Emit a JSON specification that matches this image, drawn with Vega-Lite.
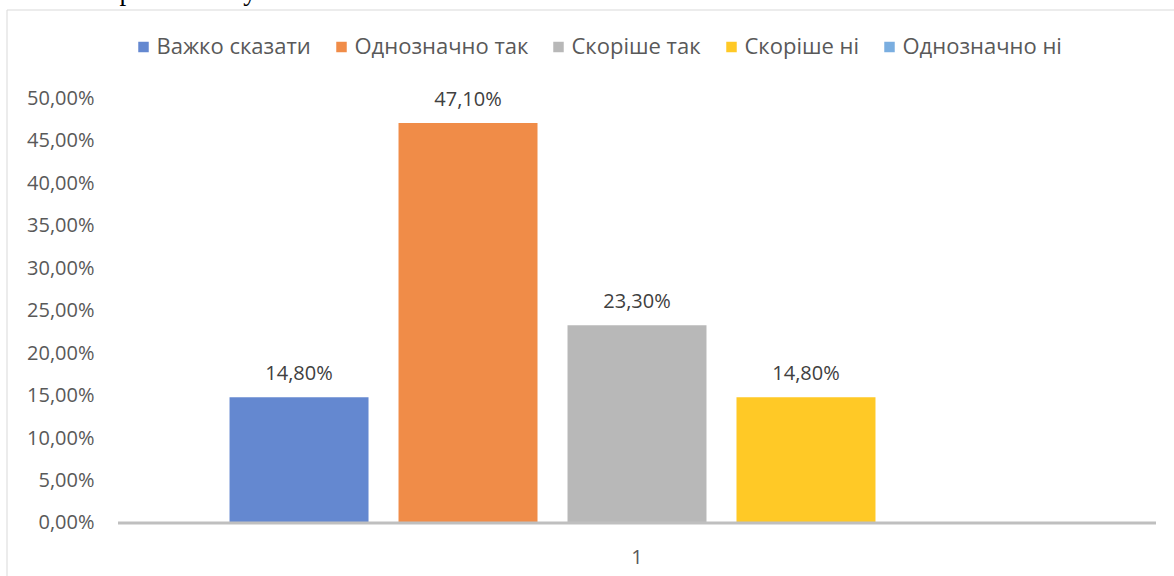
{
  "$schema": "https://vega.github.io/schema/vega-lite/v6.json",
  "width": 1167.5,
  "height": 566.5,
  "autosize": {"type": "none"},
  "padding": {"left": 6.5, "top": 9.5, "right": 0, "bottom": 0},
  "background": "white",
  "title": {
    "text": "ивності обрали б іншу.",
    "anchor": "start",
    "frame": "group",
    "orient": "top",
    "font": "Liberation Serif",
    "fontSize": 27,
    "fontWeight": "normal",
    "color": "#000000",
    "offset": 0,
    "baseline": "alphabetic",
    "dx": -8,
    "dy": 17
  },
  "data": {
    "values": [
      {"cat": "1", "series": "Важко сказати", "value": 0.148},
      {"cat": "1", "series": "Однозначно так", "value": 0.471},
      {"cat": "1", "series": "Скоріше так", "value": 0.233},
      {"cat": "1", "series": "Скоріше ні", "value": 0.148},
      {"cat": "1", "series": "Однозначно ні", "value": null}
    ]
  },
  "encoding": {
    "x": {
      "field": "cat",
      "type": "nominal",
      "scale": {"paddingInner": 0, "paddingOuter": 0.06238, "align": 0.861},
      "axis": {
        "title": null,
        "domain": false,
        "ticks": false,
        "labelPadding": 34,
        "labelBaseline": "middle",
        "offset": -53,
        "labelAngle": 0,
        "labelFont": "Open Sans",
        "labelFontSize": 20,
        "labelColor": "#595959"
      }
    }
  },
  "layer": [
    {
      "mark": {"type": "bar"},
      "encoding": {
        "xOffset": {
          "field": "series",
          "type": "nominal",
          "scale": {
            "domain": ["Важко сказати", "Однозначно так", "Скоріше так", "Скоріше ні", "Однозначно ні"],
            "paddingInner": 0.1775,
            "paddingOuter": 0.66
          }
        },
        "y": {
          "field": "value",
          "type": "quantitative",
          "scale": {"domain": [-0.06243, 0.60483], "zero": false, "nice": false},
          "axis": {
            "title": null,
            "values": [0, 0.05, 0.1, 0.15, 0.2, 0.25, 0.3, 0.35, 0.4, 0.45, 0.5],
            "format": ".2%",
            "grid": false,
            "domain": false,
            "ticks": false,
            "labelPadding": 0,
            "offset": -87.5,
            "labelFont": "Open Sans",
            "labelFontSize": 20,
            "labelColor": "#595959"
          }
        },
        "y2": {"datum": 0},
        "color": {
          "field": "series",
          "type": "nominal",
          "scale": {
            "domain": ["Важко сказати", "Однозначно так", "Скоріше так", "Скоріше ні", "Однозначно ні"],
            "range": ["#6488d0", "#f08c48", "#b8b8b8", "#ffc926", "#7aaee0"]
          },
          "legend": {
            "title": null,
            "orient": "none",
            "direction": "horizontal",
            "legendX": 126,
            "legendY": 26.5,
            "symbolType": "square",
            "symbolSize": 110,
            "symbolStrokeWidth": 0,
            "labelFont": "Open Sans",
            "labelFontSize": 22,
            "labelLimit": 400,
            "labelColor": "#595959",
            "labelOffset": 2,
            "columnPadding": 19
          }
        }
      }
    },
    {
      "data": {"values": [{"cat": "1"}]},
      "mark": {"type": "bar", "color": "#bfbfbf"},
      "encoding": {
        "y": {"datum": 0.00177, "type": "quantitative"},
        "y2": {"datum": -0.00177}
      }
    },
    {
      "transform": [{"filter": "datum.value != null"}],
      "mark": {
        "type": "text",
        "baseline": "alphabetic",
        "dy": -17,
        "font": "Open Sans",
        "fontSize": 20,
        "fill": "#404040"
      },
      "encoding": {
        "xOffset": {"field": "series", "type": "nominal"},
        "y": {"field": "value", "type": "quantitative"},
        "text": {"field": "value", "type": "quantitative", "format": ".2%"}
      }
    }
  ],
  "config": {
    "view": {"stroke": "#d9d9d9", "strokeWidth": 1},
    "locale": {
      "number": {"decimal": ",", "thousands": " ", "grouping": [3], "currency": ["", " ₴"]}
    }
  }
}
